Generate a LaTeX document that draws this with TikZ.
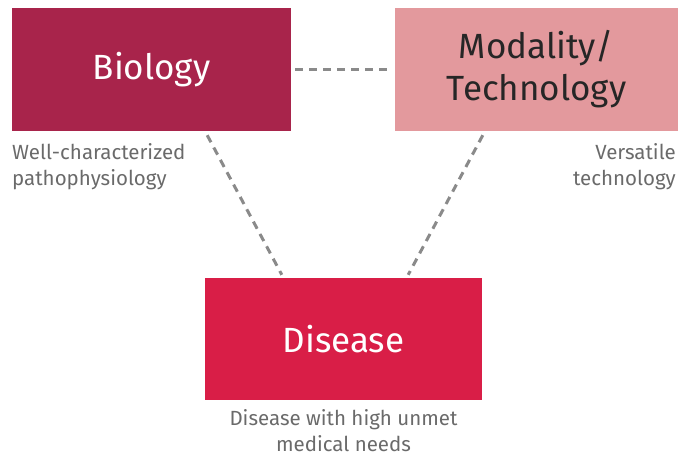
\documentclass[tikz,border=0pt]{standalone}
\usepackage{fontspec}
\setmainfont{Fira Sans}
\usepackage{tikz}
\usetikzlibrary{arrows,shapes}
\definecolor{biored}{HTML}{A8244B}
\definecolor{modpink}{HTML}{E3999D}
\definecolor{disred}{HTML}{D91E47}
\definecolor{dashgray}{HTML}{8A8A8A}
\definecolor{notegray}{HTML}{6A6A6A}
\tikzstyle{box}=[rectangle,minimum width=279pt,minimum height=123pt,inner sep=0pt,align=center,font=\fontsize{35}{42}\selectfont]
\tikzstyle{bio box}=[box,fill=biored,text=white]
\tikzstyle{mod box}=[box,fill=modpink,text=black!85,minimum width=283pt]
\tikzstyle{dis box}=[box,fill=disred,text=white,minimum width=277pt,minimum height=122pt]
\tikzstyle{note}=[inner sep=0pt,text=notegray,font=\fontsize{20.5}{26}\selectfont]
\tikzstyle{edge} = [draw,line width=3pt,dashgray,dash pattern=on 8pt off 6pt,-]

\begin{document}
\begin{tikzpicture}[x=1pt,y=-1pt]
        \useasboundingbox (0,0) rectangle (690,461);
        \node[bio box] (bio) at (151.5,69.5) {Biology};
        \node[mod box] (mod) at (536.5,69.5) {Modality/\\Technology};
        \node[dis box] (dis) at (343.5,339) {Disease};
        \node[note,anchor=north west,align=left] (bionote) at (12,143) {Well-characterized\\pathophysiology};
        \node[note,anchor=north east,align=right] (modnote) at (676,143) {Versatile\\technology};
        \node[note,anchor=north,align=center] (disnote) at (343.5,409) {Disease with high unmet\\medical needs};
        \draw[edge] ([xshift=4pt]bio.east) to ([xshift=-4pt]mod.west);
        \draw[edge] ([xshift=-84pt,yshift=-4pt]bio.south east) to ([xshift=77pt,yshift=3pt]dis.north west);
        \draw[edge] ([xshift=88pt,yshift=-4pt]mod.south west) to ([xshift=-74pt,yshift=3pt]dis.north east);
      \end{tikzpicture}
\end{document}
